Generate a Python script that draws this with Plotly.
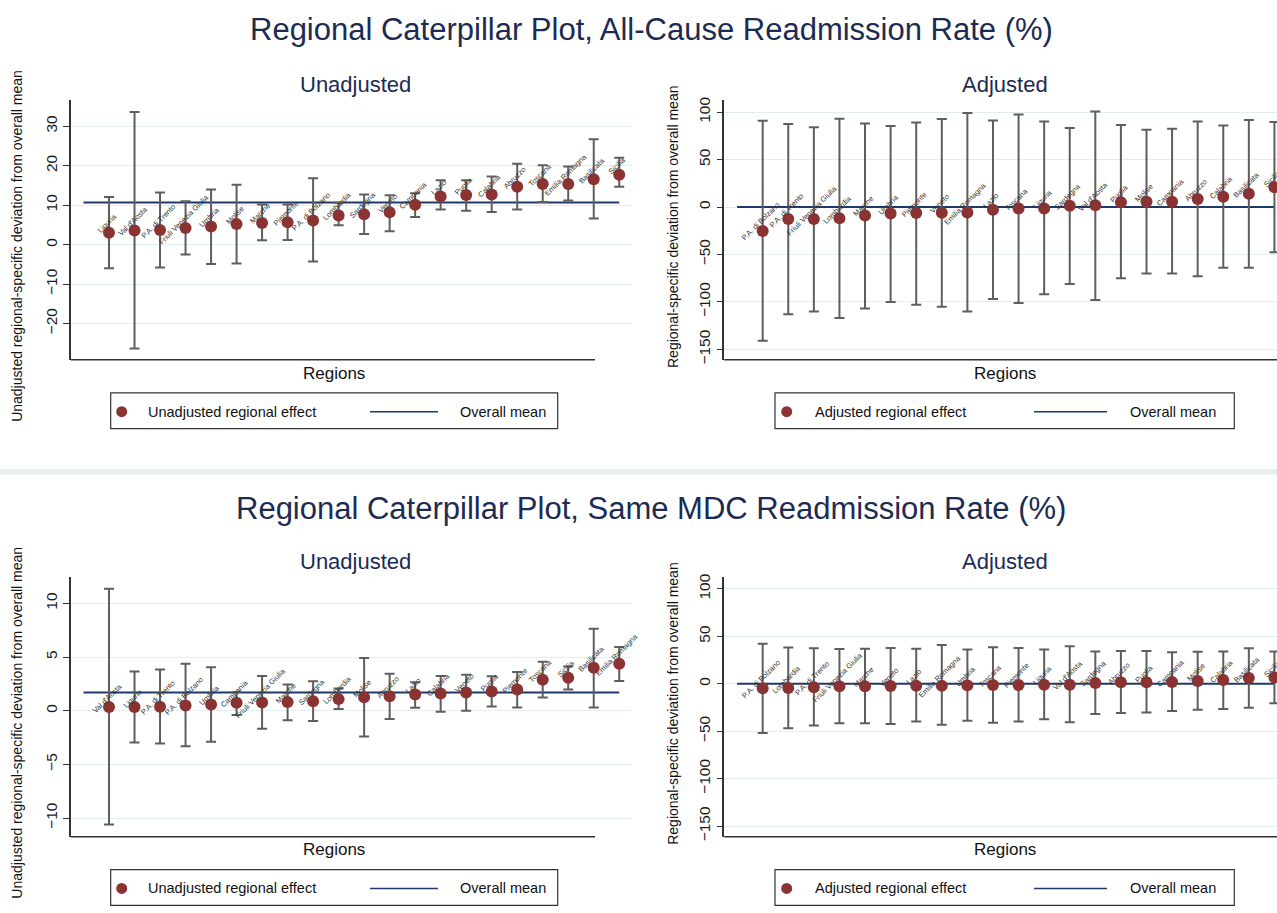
import plotly.graph_objects as go

W, H = 1277, 913

# ---------------- DATA ----------------
# Top-left: Unadjusted, All-Cause
regions_ac_unadj = ["Liguria", "Val d'Aosta", "P.A. di Trento", "Friuli Venezia Giulia", "Umbria", "Molise",
                    "Marche", "Piemonte", "P.A. di Bolzano", "Lombardia", "Sardegna", "Veneto", "Campania",
                    "Lazio", "Puglia", "Calabria", "Abruzzo", "Toscana", "Emilia Romagna", "Basilicata", "Sicilia"]
est_ac_unadj = [3.0, 3.6, 3.7, 4.2, 4.6, 5.2, 5.5, 5.7, 6.1, 7.4, 7.7, 8.2, 10.1, 12.2, 12.6, 12.7, 14.7, 15.4, 15.4, 16.6, 17.7]
hi_ac_unadj = [12.1, 33.6, 13.2, 11.0, 14.0, 15.2, 10.2, 10.2, 16.8, 10.6, 12.7, 12.5, 13.0, 16.3, 16.3, 17.3, 20.5, 20.1, 19.8, 26.7, 22.0]
lo_ac_unadj = [-6.0, -26.3, -5.8, -2.5, -4.9, -4.8, 1.1, 1.2, -4.3, 4.9, 2.7, 3.4, 7.0, 8.9, 8.6, 8.3, 8.9, 10.8, 11.2, 6.6, 14.7]
mean_ac_unadj = 10.65

# Top-right: Adjusted, All-Cause
regions_ac_adj = ["P.A. di Bolzano", "P.A. di Trento", "Friuli Venezia Giulia", "Lombardia", "Marche", "Umbria",
                  "Piemonte", "Veneto", "Emilia Romagna", "Lazio", "Toscana", "Liguria", "Sardegna", "Val d'Aosta",
                  "Puglia", "Molise", "Campania", "Abruzzo", "Calabria", "Basilicata", "Sicilia"]
est_ac_adj = [-25.2, -12.6, -12.6, -11.9, -9.0, -6.9, -6.3, -5.9, -5.6, -2.7, -1.4, -1.4, 1.5, 1.8, 5.2, 5.7, 5.7, 8.4, 10.9, 14.1, 21.0]
hi_ac_adj = [91.0, 87.5, 84.0, 93.0, 88.0, 85.4, 89.2, 92.8, 99.0, 91.3, 97.6, 90.2, 83.3, 100.7, 86.5, 81.5, 82.6, 90.2, 86.0, 91.7, 89.6]
lo_ac_adj = [-141.0, -113.0, -110.0, -117.0, -107.0, -100.0, -103.0, -105.0, -110.0, -97.0, -101.0, -92.0, -81.0, -98.0, -75.0, -70.0, -70.0, -73.0, -64.0, -64.0, -47.5]
mean_ac_adj = 0.0

# Bottom-left: Unadjusted, Same MDC
regions_mdc_unadj = ["Val d'Aosta", "Liguria", "P.A. di Trento", "P.A. di Bolzano", "Umbria", "Campania",
                     "Friuli Venezia Giulia", "Marche", "Sardegna", "Lombardia", "Molise", "Abruzzo", "Lazio",
                     "Calabria", "Veneto", "Puglia", "Piemonte", "Toscana", "Sicilia", "Basilicata", "Emilia Romagna"]
est_mdc_unadj = [0.34, 0.34, 0.37, 0.49, 0.58, 0.74, 0.77, 0.80, 0.89, 1.08, 1.26, 1.35, 1.51, 1.60, 1.69, 1.78, 1.97, 2.89, 3.08, 4.00, 4.37]
hi_mdc_unadj = [11.36, 3.66, 3.85, 4.37, 4.06, 1.75, 3.23, 2.43, 2.74, 2.06, 4.92, 3.45, 2.65, 3.23, 3.35, 3.20, 3.60, 4.55, 4.12, 7.63, 5.94]
lo_mdc_unadj = [-10.6, -2.95, -3.05, -3.3, -2.9, -0.4, -1.69, -0.89, -0.95, 0.15, -2.4, -0.77, 0.28, -0.09, 0.0, 0.4, 0.31, 1.23, 1.97, 0.31, 2.77]
mean_mdc_unadj = 1.69

# Bottom-right: Adjusted, Same MDC
regions_mdc_adj = ["P.A. di Bolzano", "Lombardia", "P.A. di Trento", "Friuli Venezia Giulia", "Marche", "Veneto",
                   "Lazio", "Emilia Romagna", "Umbria", "Toscana", "Piemonte", "Liguria", "Val d'Aosta", "Sardegna",
                   "Abruzzo", "Puglia", "Campania", "Molise", "Calabria", "Basilicata", "Sicilia"]
est_mdc_adj = [-4.7, -4.4, -3.7, -2.6, -2.6, -2.3, -1.9, -1.9, -1.6, -1.2, -1.2, -0.9, -0.9, 0.9, 1.6, 1.6, 1.9, 2.9, 4.0, 6.1, 6.8]
hi_mdc_adj = [42.3, 38.4, 37.4, 36.7, 37.0, 37.7, 37.0, 40.9, 36.3, 38.7, 37.7, 36.3, 39.5, 34.2, 34.6, 34.6, 33.2, 33.9, 34.2, 37.4, 34.2]
lo_mdc_adj = [-51.8, -46.8, -44.0, -41.6, -41.6, -42.3, -39.8, -43.0, -38.8, -40.9, -39.8, -37.4, -40.5, -31.8, -30.7, -30.3, -28.6, -27.2, -26.5, -25.1, -20.5]
mean_mdc_adj = 0.0

main_titles = ["Regional Caterpillar Plot, All-Cause Readmission Rate (%)",
               "Regional Caterpillar Plot, Same MDC Readmission Rate (%)"]
sub_titles = ["Unadjusted", "Adjusted"]
ytitles = ["Unadjusted regional-specific deviation from overall mean",
           "Regional-specific deviation from overall mean"]
legend_labels = ["Unadjusted regional effect", "Adjusted regional effect"]
ticks_ac_unadj = [-20, -10, 0, 10, 20, 30]
ticks_adj = [-150, -100, -50, 0, 50, 100]
ticks_mdc_unadj = [-10, -5, 0, 5, 10]

# ---------------- STYLE ----------------
FONT = "Liberation Sans, Arial, Helvetica, sans-serif"
NAVY = "#1c2b52"
MARKER = "#8b3333"
BAR = "#5e5e5e"
MEANLINE = "#1f3a68"
GRID = "#e4edf0"


def fx(px):
    return px / W


def fy(py):
    return 1 - py / H


panels = [
    dict(reg=regions_ac_unadj, est=est_ac_unadj, hi=hi_ac_unadj, lo=lo_ac_unadj, mean=mean_ac_unadj,
         ticks=ticks_ac_unadj, yr=[-29.2, 36.7], xr=[-0.49, 21.5], xd=(71, 632), yd=(97.7, 360), xl=595),
    dict(reg=regions_ac_adj, est=est_ac_adj, hi=hi_ac_adj, lo=lo_ac_adj, mean=mean_ac_adj,
         ticks=ticks_adj, yr=[-161, 113], xr=[-0.5, 21.1], xd=(724.3, 1277), yd=(97.7, 360), xl=1277),
    dict(reg=regions_mdc_unadj, est=est_mdc_unadj, hi=hi_mdc_unadj, lo=lo_mdc_unadj, mean=mean_mdc_unadj,
         ticks=ticks_mdc_unadj, yr=[-11.73, 12.49], xr=[-0.49, 21.5], xd=(71, 632), yd=(578.7, 841), xl=595),
    dict(reg=regions_mdc_adj, est=est_mdc_adj, hi=hi_mdc_adj, lo=lo_mdc_adj, mean=mean_mdc_adj,
         ticks=ticks_adj, yr=[-161, 113], xr=[-0.5, 21.1], xd=(724.3, 1277), yd=(578.7, 841), xl=1277),
]

fig = go.Figure()
annotations = []
shapes = []
layout_axes = {}

for k, p in enumerate(panels, start=1):
    xa = "x" if k == 1 else f"x{k}"
    ya = "y" if k == 1 else f"y{k}"
    n = len(p["reg"])
    xs = list(range(1, n + 1))
    fig.add_trace(go.Scatter(x=[0, n], y=[p["mean"], p["mean"]], mode="lines",
                             line=dict(color=MEANLINE, width=2), xaxis=xa, yaxis=ya,
                             showlegend=False, hoverinfo="skip"))
    fig.add_trace(go.Scatter(
        x=xs, y=p["est"], mode="markers", xaxis=xa, yaxis=ya, showlegend=False,
        marker=dict(color=MARKER, size=12, line=dict(width=0)),
        error_y=dict(type="data", symmetric=False,
                     array=[h - e for h, e in zip(p["hi"], p["est"])],
                     arrayminus=[e - l for e, l in zip(p["est"], p["lo"])],
                     color=BAR, thickness=2, width=5)))
    for xi, v, name in zip(xs, p["est"], p["reg"]):
        annotations.append(dict(x=xi, y=v, xref=xa, yref=ya, text=name, showarrow=False,
                                textangle=-45, xshift=-2, yshift=9,
                                font=dict(family=FONT, size=7.5, color="#333333")))
    xkey = "xaxis" if k == 1 else f"xaxis{k}"
    ykey = "yaxis" if k == 1 else f"yaxis{k}"
    layout_axes[xkey] = dict(domain=[fx(p["xd"][0]), fx(p["xd"][1])], range=p["xr"], anchor=ya,
                             showticklabels=False, showgrid=False, zeroline=False, showline=False)
    layout_axes[ykey] = dict(domain=[fy(p["yd"][1]), fy(p["yd"][0])], range=p["yr"], anchor=xa,
                             tickvals=p["ticks"], tickangle=-90, ticks="outside", ticklen=6,
                             tickcolor="#333333", tickwidth=1,
                             tickfont=dict(family=FONT, size=15.5, color="#1a1a1a"),
                             showgrid=True, gridcolor=GRID, gridwidth=1, zeroline=False,
                             showline=True, linecolor="#333333", linewidth=1.5)
    shapes.append(dict(type="line", xref="paper", yref="paper",
                       x0=fx(p["xd"][0]), x1=fx(p["xl"]), y0=fy(p["yd"][1]), y1=fy(p["yd"][1]),
                       line=dict(color="#333333", width=1.5)))

for t, py in zip(main_titles, [27, 510]):
    annotations.append(dict(x=fx(651), y=fy(py), xref="paper", yref="paper", text=t, showarrow=False,
                            xanchor="center", yanchor="middle",
                            font=dict(family=FONT, size=31, color=NAVY)))

for off in [0, 481]:
    for t, px in zip(sub_titles, [355, 1005]):
        annotations.append(dict(x=fx(px), y=fy(82 + off), xref="paper", yref="paper", text=t,
                                showarrow=False, xanchor="center", yanchor="middle",
                                font=dict(family=FONT, size=22, color=NAVY)))
    for t, px, py in zip(ytitles, [17, 673], [245, 226]):
        annotations.append(dict(x=fx(px), y=fy(py + off), xref="paper", yref="paper", text=t,
                                showarrow=False, textangle=-90, xanchor="center", yanchor="middle",
                                font=dict(family=FONT, size=14, color="#111111")))
    for px in [334, 1005]:
        annotations.append(dict(x=fx(px), y=fy(373.3 + off), xref="paper", yref="paper", text="Regions",
                                showarrow=False, xanchor="center", yanchor="middle",
                                font=dict(family=FONT, size=17, color="#111111")))
    for lab, box, mx, tx, lx, ox in zip(legend_labels,
                                        [(110.7, 557.7), (775, 1234.3)],
                                        [121.7, 786.7], [146, 813], [(370, 438), (1034, 1107)], [458, 1128]):
        y0, y1, yc = 393.3 + off, 429.3 + off, 412.3 + off
        shapes.append(dict(type="rect", xref="paper", yref="paper", x0=fx(box[0]), x1=fx(box[1]),
                           y0=fy(y1), y1=fy(y0), line=dict(color="#333333", width=1.2),
                           fillcolor="rgba(0,0,0,0)"))
        shapes.append(dict(type="circle", xref="paper", yref="paper", x0=fx(mx - 5.5), x1=fx(mx + 5.5),
                           y0=fy(yc + 5.5), y1=fy(yc - 5.5), fillcolor=MARKER, line=dict(width=0)))
        shapes.append(dict(type="line", xref="paper", yref="paper", x0=fx(lx[0]), x1=fx(lx[1]),
                           y0=fy(yc), y1=fy(yc), line=dict(color=MEANLINE, width=1.5)))
        annotations.append(dict(x=fx(tx), y=fy(yc), xref="paper", yref="paper", text=lab,
                                showarrow=False, xanchor="left", yanchor="middle",
                                font=dict(family=FONT, size=14.5, color="#111111")))
        annotations.append(dict(x=fx(ox), y=fy(yc), xref="paper", yref="paper", text="Overall mean",
                                showarrow=False, xanchor="left", yanchor="middle",
                                font=dict(family=FONT, size=14.5, color="#111111")))

shapes.append(dict(type="rect", xref="paper", yref="paper", x0=0, x1=1, y0=fy(476), y1=fy(470),
                   fillcolor="#e8eff2", line=dict(width=0), layer="below"))

fig.update_layout(width=W, height=H, margin=dict(l=0, r=0, t=0, b=0),
                  paper_bgcolor="white", plot_bgcolor="white",
                  annotations=annotations, shapes=shapes, showlegend=False,
                  font=dict(family=FONT), **layout_axes)

fig.write_html("out.html", config={"displayModeBar": False},
               post_script="document.body.style.margin='0';document.body.style.overflow='hidden';")
